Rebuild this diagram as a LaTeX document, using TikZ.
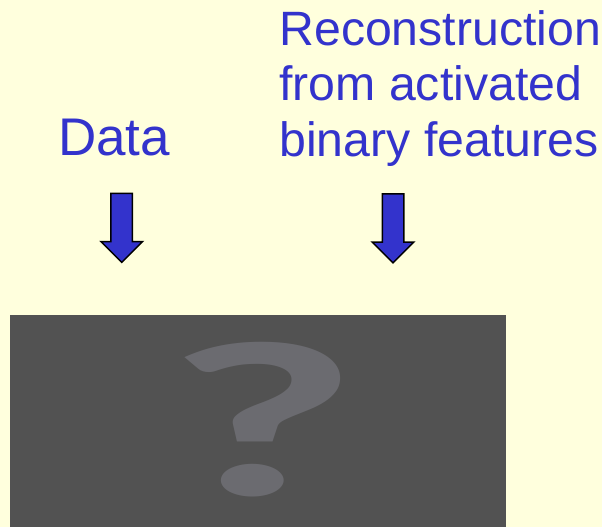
\documentclass[tikz,border=0pt]{standalone}
\usepackage{fontspec}
\setmainfont{Liberation Sans}
\newfontfamily\qfont{Carlito}
\usetikzlibrary{shapes.arrows}

\definecolor{slidebg}{HTML}{FFFFDD}
\definecolor{slideblue}{HTML}{3333CC}
\definecolor{boxgray}{HTML}{525252}
\definecolor{qgray}{HTML}{6B6B70}

\tikzset{
  slide text/.style={text=slideblue, inner sep=0pt, anchor=base west},
  down arrow/.style={single arrow, draw=black, line width=1.5pt, fill=slideblue,
    minimum width=40pt, minimum height=69pt, single arrow head extend=10pt,
    inner sep=10pt, rotate=-90}
}

\begin{document}
\begin{tikzpicture}[x=1pt, y=-1pt]

  % background
  \fill[slidebg] (0,0) rectangle (602,527);
  \useasboundingbox (0,0) rectangle (602,527);

  % titles
  \node[slide text, font=\fontsize{53}{60}\selectfont] (data) at (58,155) {Data};
  \node[slide text, font=\fontsize{48.2}{55.5}\selectfont, align=left] (recon) at (279.2,156)
  {Reconstruction\\from activated\\binary features};

  % arrows
  \node[down arrow] (dataarrow) at (121.7,222.5) {};
  \node[down arrow] (reconarrow) at (393,223) {};

  % image that is missing
  \fill[boxgray] (10,315) rectangle (506,527);
  \node[text=qgray, inner sep=0pt, anchor=base, xscale=1.9,
        font=\qfont\bfseries\fontsize{222}{222}\selectfont] (mark) at (262,495) {?};

\end{tikzpicture}
\end{document}
